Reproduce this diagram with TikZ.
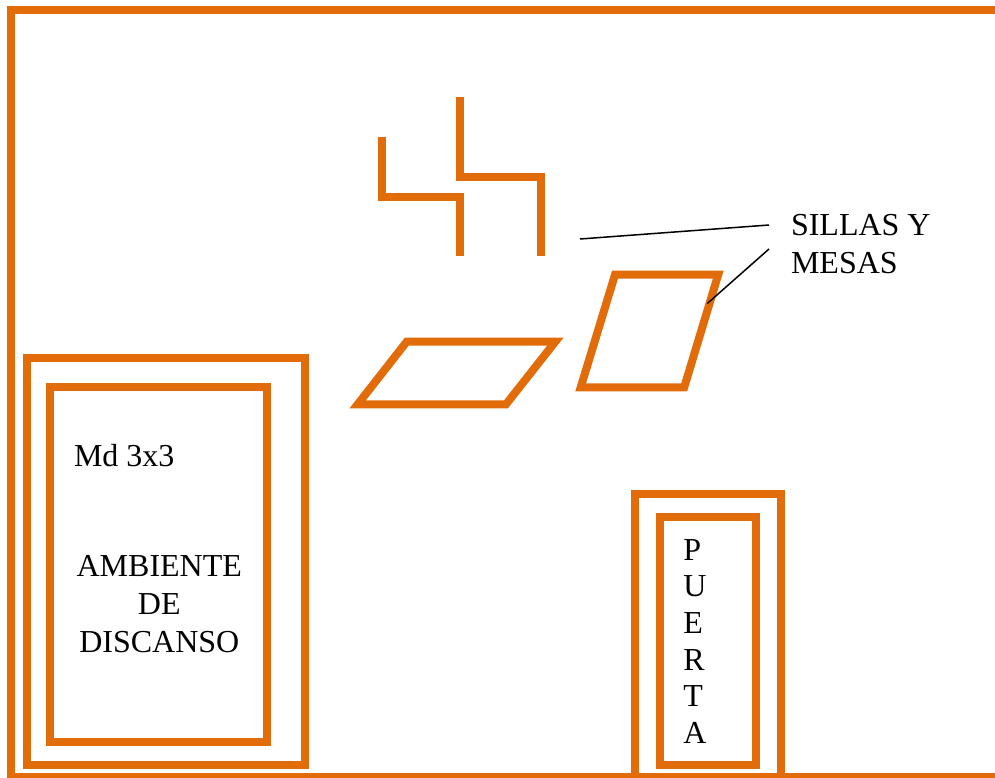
\documentclass[tikz,border=0pt]{standalone}
\usepackage{fontspec}
\setmainfont{Liberation Serif}
\definecolor{wallorange}{HTML}{E36C0A}
\tikzset{
  wall/.style={draw=wallorange,line width=8pt,miter limit=10},
  lbl/.style={inner sep=0pt,outer sep=0pt,text=black,font=\fontsize{32pt}{38pt}\selectfont},
  leader/.style={draw=black,line width=1.5pt}
}
\begin{document}
\begin{tikzpicture}[x=1pt,y=-1pt]
\useasboundingbox (0,0) rectangle (995,778);
\begin{scope}
\clip (0,0) rectangle (995,778);
\draw[wall] (11,10) rectangle (1010,777);
\draw[wall] (27.3,358) rectangle (305,765);
\draw[wall] (50.3,387.3) rectangle (267.3,742.3);
\draw[wall] (635,494) rectangle (781,777);
\draw[wall] (660,516.7) rectangle (755.7,765);
\draw[wall] (382.3,137) -- (382.3,196.7) -- (459.7,196.7) -- (459.7,256);
\draw[wall] (459.7,97.3) -- (459.7,176.7) -- (541,176.7) -- (541,256);
\draw[wall] (406.7,341.7) -- (555.3,341.7) -- (506,404.3) -- (357.7,404.3) -- cycle;
\draw[wall] (615,274.7) -- (718.2,274.7) -- (684.2,387.3) -- (580.7,387.3) -- cycle;
\end{scope}
\node[lbl,anchor=base west] (md) at (74,466.7) {Md 3x3};
\node[lbl,anchor=base] (amb) at (159.3,576.7) {AMBIENTE};
\node[lbl,anchor=base] (de) at (159.3,614.3) {DE};
\node[lbl,anchor=base] (dis) at (159.3,652.3) {DISCANSO};
\node[lbl,anchor=base west] (p1) at (683.3,560) {P};
\node[lbl,anchor=base west] (p2) at (683.3,596.7) {U};
\node[lbl,anchor=base west] (p3) at (683.3,633.3) {E};
\node[lbl,anchor=base west] (p4) at (683.3,670) {R};
\node[lbl,anchor=base west] (p5) at (683.3,706) {T};
\node[lbl,anchor=base west] (p6) at (683.3,743.3) {A};
\node[lbl,anchor=base west] (sillas) at (791,235) {SILLAS Y};
\node[lbl,anchor=base west] (mesas) at (791,273) {MESAS};
\coordinate (c1a) at (580,239);
\coordinate (c1b) at (769,225);
\coordinate (c2a) at (707.3,303.5);
\coordinate (c2b) at (769,249);
\draw[leader] (c1a) -- (c1b);
\draw[leader] (c2a) -- (c2b);
\end{tikzpicture}
\end{document}
